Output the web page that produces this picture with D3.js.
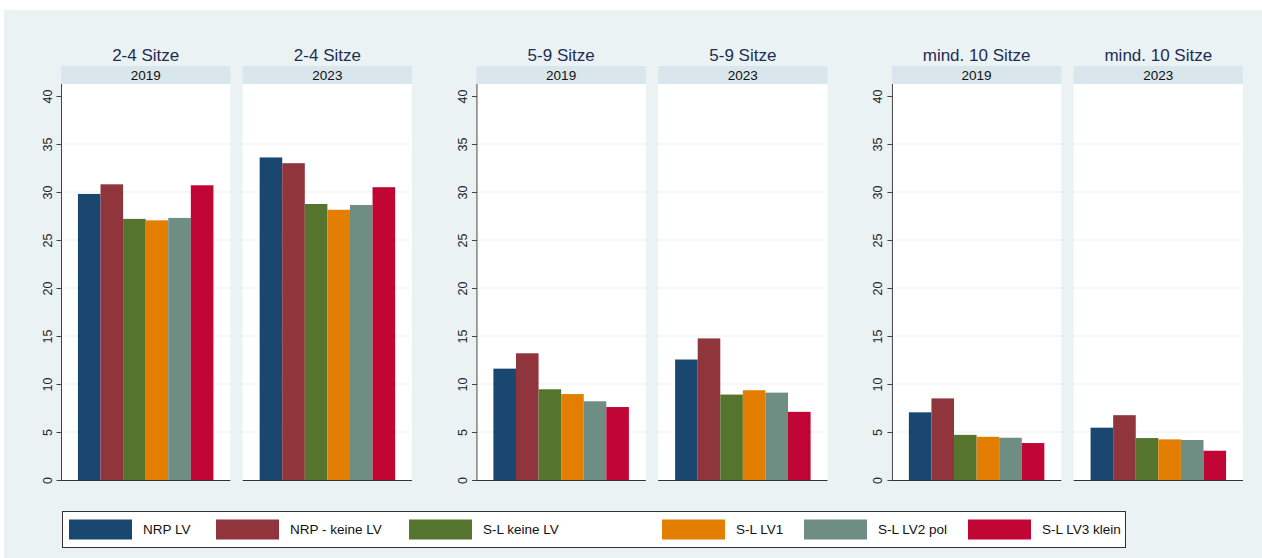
<!DOCTYPE html>
<html>
<head>
<meta charset="utf-8">
<script src="https://cdn.jsdelivr.net/npm/d3@7"></script>
<style>
  body { margin: 0; background: #fff; }
  svg { display: block; font-family: "Liberation Sans", Arial, sans-serif; }
</style>
</head>
<body>
<svg width="1262" height="558"></svg>
<script>
// data
var sizes = ["2-4 Sitze", "5-9 Sitze", "mind. 10 Sitze"];
var years = ["2019", "2023"];
var series = ["NRP LV", "NRP - keine LV", "S-L keine LV", "S-L LV1", "S-L LV2 pol", "S-L LV3 klein"];
var colors = ["#1a476f", "#90353b", "#55752f", "#e37e00", "#6e8e84", "#c10534"];
var yTicks = [0, 5, 10, 15, 20, 25, 30, 35, 40];

// values[size][year] -> one value per series
var vals_2_4_2019  = [29.8, 30.8, 27.2, 27.05, 27.3, 30.7];
var vals_2_4_2023  = [33.6, 33.0, 28.75, 28.15, 28.65, 30.5];
var vals_5_9_2019  = [11.6, 13.2, 9.45, 8.95, 8.2, 7.6];
var vals_5_9_2023  = [12.55, 14.75, 8.9, 9.35, 9.1, 7.1];
var vals_10_2019   = [7.05, 8.5, 4.7, 4.5, 4.4, 3.85];
var vals_10_2023   = [5.45, 6.75, 4.37, 4.23, 4.17, 3.05];

var values = {
  "2-4 Sitze": {"2019": vals_2_4_2019, "2023": vals_2_4_2023},
  "5-9 Sitze": {"2019": vals_5_9_2019, "2023": vals_5_9_2023},
  "mind. 10 Sitze": {"2019": vals_10_2019, "2023": vals_10_2023}
};

var svg = d3.select("svg");

// graph region background
svg.append("rect")
  .attr("x", 4).attr("y", 10)
  .attr("width", 1258).attr("height", 548)
  .attr("fill", "#eaf2f3");

var plotTop = 84, plotBottom = 480;
var groupX = d3.scaleBand().domain(sizes).range([61, 1243]).paddingInner(0.155);
var yearX = d3.scaleBand().domain(years).range([0, groupX.bandwidth()]).paddingInner(0.068);
var barX = d3.scaleBand().domain(series).range([0, yearX.bandwidth()]).paddingInner(0).paddingOuter(0.75);
var y = d3.scaleLinear().domain([0, 40]).range([plotBottom, 96]);
var color = d3.scaleOrdinal().domain(series).range(colors);

sizes.forEach(function(s, si) {
  years.forEach(function(yr, yi) {
    var x0 = groupX(s) + yearX(yr);
    var w = yearX.bandwidth();
    var g = svg.append("g").attr("transform", "translate(" + x0 + ",0)");

    // panel title
    g.append("text")
      .attr("x", w / 2).attr("y", 61)
      .attr("text-anchor", "middle")
      .attr("font-size", 17)
      .attr("fill", "#1e2d55")
      .text(s);

    // strip
    g.append("rect")
      .attr("x", 0).attr("y", 66)
      .attr("width", w).attr("height", 18)
      .attr("fill", "#d9e6eb");
    g.append("text")
      .attr("x", w / 2).attr("y", 79.5)
      .attr("text-anchor", "middle")
      .attr("font-size", 13.5)
      .attr("fill", "#111")
      .text(yr);

    // plot area
    g.append("rect")
      .attr("x", 0).attr("y", plotTop)
      .attr("width", w).attr("height", plotBottom - plotTop)
      .attr("fill", "#fff");

    // grid lines
    g.selectAll("line.grid")
      .data(yTicks.filter(function(t) { return t > 0 && t < 40; }))
      .enter().append("line")
      .attr("class", "grid")
      .attr("x1", 0).attr("x2", w)
      .attr("y1", function(d) { return y(d); })
      .attr("y2", function(d) { return y(d); })
      .attr("stroke", "#eaf2f3")
      .attr("stroke-width", 1.2);

    // bars
    g.selectAll("rect.bar")
      .data(values[s][yr])
      .enter().append("rect")
      .attr("class", "bar")
      .attr("x", function(d, i) { return barX(series[i]); })
      .attr("width", barX.bandwidth())
      .attr("y", function(d) { return y(d); })
      .attr("height", function(d) { return plotBottom - y(d); })
      .attr("fill", function(d, i) { return color(series[i]); });

    // x axis line
    g.append("line")
      .attr("x1", 0).attr("x2", w)
      .attr("y1", plotBottom + 0.5).attr("y2", plotBottom + 0.5)
      .attr("stroke", "#333").attr("stroke-width", 1);

    // y axis only on the first panel of each group
    if (yi == 0) {
      var ax = g.append("g").attr("transform", "translate(0.5,0)");
      ax.call(d3.axisLeft(y).tickValues(yTicks).tickSize(5).tickFormat(d3.format("d")));
      ax.select(".domain").attr("d", "M0," + plotTop + "V" + plotBottom).attr("stroke", "#444");
      ax.selectAll(".tick line").attr("stroke", "#444");
      ax.selectAll(".tick text")
        .attr("font-family", "Liberation Sans, Arial, sans-serif")
        .attr("font-size", 12.5)
        .attr("fill", "#222")
        .attr("transform", "rotate(-90)")
        .attr("x", 0).attr("y", -10)
        .attr("dy", 0)
        .attr("text-anchor", "middle");
    }
  });
});

// legend
var legendKeyX = [0, 147, 340, 593, 735, 899];
var legend = svg.append("g").attr("transform", "translate(62,511)");
legend.append("rect")
  .attr("x", 0.5).attr("y", 0.5)
  .attr("width", 1063).attr("height", 36)
  .attr("fill", "#fff")
  .attr("stroke", "#333");
var items = legend.selectAll("g.item")
  .data(series)
  .enter().append("g")
  .attr("class", "item")
  .attr("transform", function(d, i) { return "translate(" + (7 + legendKeyX[i]) + ",0)"; });
items.append("rect")
  .attr("x", 0).attr("y", 8.5)
  .attr("width", 63).attr("height", 20)
  .attr("fill", function(d) { return color(d); });
items.append("text")
  .attr("x", 74).attr("y", 23)
  .attr("font-size", 13.5)
  .attr("fill", "#111")
  .text(function(d) { return d; });
</script>
</body>
</html>
